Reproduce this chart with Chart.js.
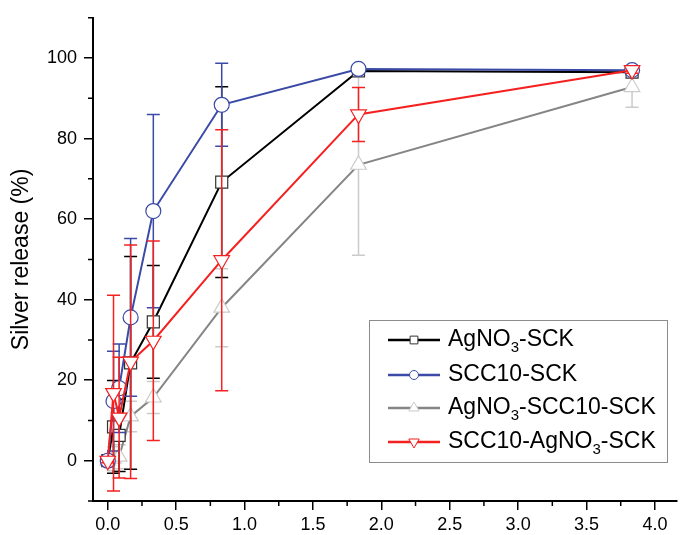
<!DOCTYPE html>
<html>
<head>
    <title>Silver release</title>
    <script src="https://cdn.jsdelivr.net/npm/chart.js"></script>
    <style>
        body { margin: 0; background: #fff; }
        canvas { display: block; }
    </style>
</head>
<body>
    <canvas id="releaseChart" width="687" height="535"></canvas>

    <script>
        // sampling times (days) shared by all series
        const times = [0, 0.042, 0.083, 0.167, 0.333, 0.833, 1.833, 3.833];

        const agno3Sck = [0, 8.4, 6.3, 24.3, 34.5, 69.2, 96.8, 96.5];
        const agno3SckErr = [0.5, 11.5, 9, 26.4, 14, 23.7, 0.5, 0.6];

        const scc10Sck = [0, 14.8, 18, 35.6, 62, 88.4, 97.3, 97];
        const scc10SckErr = [0.5, 12.4, 11, 19.6, 24, 10.3, 0.6, 0.8];

        const agno3Scc10Sck = [0, 0.5, 1, 11, 15.7, 38, 73.5, 92.8];
        const agno3Scc10SckErr = [0.5, 3, 3, 3.8, 4, 9.7, 22.5, 5];

        const scc10Agno3Sck = [0, 16.8, 10.7, 24.6, 29.8, 49.8, 86, 97];
        const scc10Agno3SckErr = [0.5, 24.3, 15, 29, 24.8, 32.4, 6.7, 0.8];

        const seriesNames = ['AgNO3-SCK', 'SCC10-SCK', 'AgNO3-SCC10-SCK', 'SCC10-AgNO3-SCK'];
        const xTicks = [0, 0.5, 1, 1.5, 2, 2.5, 3, 3.5, 4];
        const yTicks = [0, 20, 40, 60, 80, 100];

        const FONT = "'Liberation Sans', Arial, sans-serif";

        function points(ys) {
            return times.map((t, i) => ({ x: t, y: ys[i] }));
        }

        // vertical error bars, drawn just before each dataset so markers sit on top
        const errorBars = {
            id: 'errorBars',
            beforeDatasetDraw(chart, args) {
                const ds = chart.data.datasets[args.index];
                if (!ds.errors) return;
                const ctx = chart.ctx, xs = chart.scales.x, ys = chart.scales.y;
                ctx.save();
                ctx.strokeStyle = ds.errorColor;
                ctx.lineWidth = 1.5;
                ds.data.forEach((p, j) => {
                    const e = ds.errors[j];
                    const px = xs.getPixelForValue(p.x);
                    const t = ys.getPixelForValue(p.y + e);
                    const b = ys.getPixelForValue(p.y - e);
                    ctx.beginPath();
                    ctx.moveTo(px, t); ctx.lineTo(px, b);
                    ctx.moveTo(px - 6.5, t); ctx.lineTo(px + 6.5, t);
                    ctx.moveTo(px - 6.5, b); ctx.lineTo(px + 6.5, b);
                    ctx.stroke();
                });
                ctx.restore();
            }
        };

        // minor ticks halfway between the major ones
        const minorTicks = {
            id: 'minorTicks',
            afterDraw(chart) {
                const ctx = chart.ctx, xs = chart.scales.x, ys = chart.scales.y;
                const area = chart.chartArea;
                ctx.save();
                ctx.strokeStyle = '#000';
                ctx.lineWidth = 1.5;
                ctx.beginPath();
                for (let v = 0.25; v < 4.15; v += 0.5) {
                    const px = xs.getPixelForValue(v);
                    ctx.moveTo(px, area.bottom); ctx.lineTo(px, area.bottom + 5);
                }
                for (let v = -10; v <= 110; v += 20) {
                    const py = ys.getPixelForValue(v);
                    ctx.moveTo(area.left, py); ctx.lineTo(area.left - 5, py);
                }
                ctx.stroke();
                ctx.restore();
            }
        };

        // text with the "3" of NO3 as a subscript
        function drawLabel(ctx, text, x, y) {
            const parts = text.split('NO3');
            let cx = x;
            parts.forEach((part, i) => {
                ctx.font = '23px ' + FONT;
                ctx.fillText(part, cx, y);
                cx += ctx.measureText(part).width;
                if (i < parts.length - 1) {
                    ctx.fillText('NO', cx, y);
                    cx += ctx.measureText('NO').width;
                    ctx.font = '15px ' + FONT;
                    ctx.fillText('3', cx, y + 8);
                    cx += ctx.measureText('3').width;
                }
            });
        }

        const boxLegend = {
            id: 'boxLegend',
            afterDraw(chart) {
                const ctx = chart.ctx;
                ctx.save();
                ctx.strokeStyle = '#8c8c8c';
                ctx.lineWidth = 1;
                ctx.strokeRect(369.5, 320.5, 298, 142);
                const rows = [340, 375, 408, 442];
                const byOrder = [0, 1, 2, 3].map(i => chart.data.datasets.find(d => d.legendIndex === i));
                byOrder.forEach((ds, i) => {
                    const y = rows[i];
                    ctx.strokeStyle = ds.borderColor;
                    ctx.lineWidth = 2.5;
                    ctx.beginPath();
                    ctx.moveTo(388, y); ctx.lineTo(440, y);
                    ctx.stroke();
                    ctx.fillStyle = '#fff';
                    ctx.strokeStyle = ds.pointBorderColor;
                    ctx.lineWidth = 1;
                    Chart.helpers.drawPoint(ctx, {
                        pointStyle: ds.pointStyle,
                        rotation: ds.pointRotation || 0,
                        radius: ds.legendRadius,
                        borderWidth: 1
                    }, 414, y);
                    ctx.fillStyle = '#000';
                    ctx.textBaseline = 'middle';
                    drawLabel(ctx, seriesNames[i], 448, y);
                });
                ctx.restore();
            }
        };

        const lineBase = {
            showLine: true,
            borderWidth: 2,
            pointBackgroundColor: '#fff',
            pointBorderWidth: 1.2,
            pointHoverRadius: 8
        };

        const releaseChart = new Chart(document.getElementById('releaseChart').getContext('2d'), {
            type: 'scatter',
            data: {
                datasets: [
                    Object.assign({}, lineBase, {
                        label: seriesNames[0], data: points(agno3Sck), errors: agno3SckErr,
                        borderColor: '#000', errorColor: '#000', pointBorderColor: '#333',
                        pointStyle: 'rect', pointRadius: 8.5, legendRadius: 5.5, legendIndex: 0, order: 2
                    }),
                    Object.assign({}, lineBase, {
                        label: seriesNames[1], data: points(scc10Sck), errors: scc10SckErr,
                        borderColor: '#3a4aa6', errorColor: '#3a4aa6', pointBorderColor: '#3a4aa6',
                        pointStyle: 'circle', pointRadius: 7.5, legendRadius: 4.5, legendIndex: 1, order: 1
                    }),
                    Object.assign({}, lineBase, {
                        label: seriesNames[2], data: points(agno3Scc10Sck), errors: agno3Scc10SckErr,
                        borderColor: '#858585', errorColor: '#cbcbcb', pointBorderColor: '#cbcbcb',
                        pointStyle: 'triangle', pointRadius: 9, legendRadius: 6, legendIndex: 2, order: 3
                    }),
                    Object.assign({}, lineBase, {
                        label: seriesNames[3], data: points(scc10Agno3Sck), errors: scc10Agno3SckErr,
                        borderColor: '#f52020', errorColor: '#f52020', pointBorderColor: '#f52020',
                        pointStyle: 'triangle', pointRotation: 180, pointRadius: 9, legendRadius: 6,
                        legendIndex: 3, order: 0
                    })
                ]
            },
            options: {
                responsive: false,
                animation: false,
                layout: { padding: { top: 16, right: 4, left: 0, bottom: 0 } },
                plugins: { legend: { display: false }, tooltip: { enabled: false } },
                scales: {
                    x: {
                        type: 'linear', min: -0.108, max: 4.16,
                        afterBuildTicks: s => { s.ticks = xTicks.map(v => ({ value: v })); },
                        afterFit: s => { s.height = 34; },
                        border: { color: '#000', width: 2 },
                        grid: { drawOnChartArea: false, drawTicks: true, tickLength: 9, color: '#000', lineWidth: 1.5 },
                        ticks: { font: { family: FONT, size: 18 }, color: '#000', padding: 4, maxRotation: 0,
                            callback: v => v.toFixed(1) }
                    },
                    y: {
                        min: -10, max: 110,
                        afterBuildTicks: s => { s.ticks = yTicks.map(v => ({ value: v })); },
                        afterFit: s => { s.width = 93; },
                        border: { color: '#000', width: 2 },
                        grid: { drawOnChartArea: false, drawTicks: true, tickLength: 9, color: '#000', lineWidth: 1.5 },
                        ticks: { font: { family: FONT, size: 18 }, color: '#000', padding: 7 },
                        title: { display: true, text: 'Silver release (%)', color: '#000',
                            font: { family: FONT, size: 23 }, padding: { top: 8, bottom: 0 } }
                    }
                }
            },
            plugins: [errorBars, minorTicks, boxLegend]
        });
    </script>
</body>
</html>
